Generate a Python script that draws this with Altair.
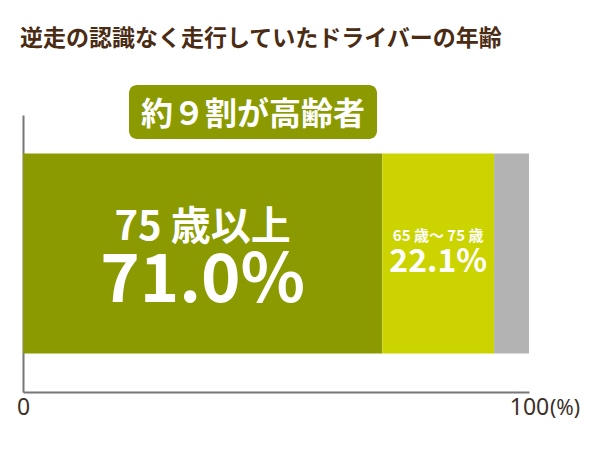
import altair as alt
import pandas as pd

# ---- data ----
segments = ["75歳以上", "65歳～75歳", "その他"]
values = [71.0, 22.1, 6.9]
colors = ["#8a9a00", "#ccd400", "#b3b3b3"]
top_labels = ["75 歳以上", "65 歳～ 75 歳", ""]
pct_labels = ["71.0%", "22.1%", ""]
axis_ticks = [0, 100]
unit_label = "(%)"
title_text = "逆走の認識なく走行していたドライバーの年齢"
badge_text = "約９割が高齢者"

starts, ends, mids = [], [], []
acc = 0.0
for v in values:
    starts.append(acc)
    ends.append(acc + v)
    mids.append(acc + v / 2)
    acc += v

df = pd.DataFrame({
    "segment": segments,
    "value": values,
    "start": starts,
    "end": ends,
    "mid": mids,
    "top": top_labels,
    "pct": pct_labels,
    "row": ["all"] * len(segments),
})

W, H = 506, 277
JP = "Noto Sans CJK JP"
x_scale = alt.Scale(domain=[0, 100], nice=False, zero=True)
y_scale = alt.Scale(paddingOuter=0.1925, paddingInner=0)

x_axis = alt.Axis(values=axis_ticks, title=None, ticks=False, grid=False,
                  domain=True, domainColor="#777777", domainWidth=2,
                  labelFlush=False, labelPadding=4, labelFontSize=23,
                  labelFont="Noto Sans", labelColor="#3c3028")
y_axis = alt.Axis(title=None, labels=False, ticks=False, grid=False,
                  domain=True, domainColor="#777777", domainWidth=2)

bars = alt.Chart(df).mark_bar().encode(
    x=alt.X("start:Q", scale=x_scale, axis=x_axis),
    x2="end:Q",
    y=alt.Y("row:N", scale=y_scale, axis=y_axis),
    color=alt.Color("segment:N", scale=alt.Scale(domain=segments, range=colors), legend=None),
)

def seg_text(idx, field, size, dy):
    return alt.Chart(df.iloc[[idx]]).mark_text(
        font=JP, fontSize=size, fontWeight="bold", color="white",
        align="center", baseline="alphabetic", dy=dy
    ).encode(
        x=alt.X("mid:Q", scale=x_scale),
        y=alt.Y("row:N", scale=y_scale),
        text=f"{field}:N",
    )

t1 = seg_text(0, "top", 40, -14)
t2 = seg_text(0, "pct", 67, 48)
t3 = seg_text(1, "top", 15, -13)
t4 = seg_text(1, "pct", 32, 18)

unit = alt.Chart(pd.DataFrame({"v": [axis_ticks[-1]], "t": [unit_label]})).mark_text(
    font="Noto Sans", fontSize=21, color="#3c3028", align="left",
    baseline="alphabetic", dx=21
).encode(x=alt.X("v:Q", scale=x_scale), y=alt.value(H + 23), text="t:N")

title = alt.Chart(pd.DataFrame({"t": [title_text]})).mark_text(
    font=JP, fontSize=23, fontWeight="bold", color="#4a2c14",
    align="left", baseline="middle"
).encode(x=alt.value(-3), y=alt.value(-76), text="t:N")

badge_bg = alt.Chart(pd.DataFrame({"t": [badge_text]})).mark_rect(
    color="#8a9a00", cornerRadius=8
).encode(x=alt.value(106), x2=alt.value(354), y=alt.value(-30), y2=alt.value(24))

badge = alt.Chart(pd.DataFrame({"t": [badge_text]})).mark_text(
    font=JP, fontSize=32, fontWeight="bold", color="white",
    align="center", baseline="middle"
).encode(x=alt.value(230), y=alt.value(0), text="t:N")

chart = alt.layer(bars, t1, t2, t3, t4, unit, title, badge_bg, badge).properties(
    width=W, height=H,
    padding={"left": 15, "top": 107, "right": 60, "bottom": 40},
    autosize=alt.AutoSizeParams(type="none"),
    background="white",
).configure_view(stroke=None)

chart.save("out.html", embed_options={"renderer": "svg", "actions": False})
